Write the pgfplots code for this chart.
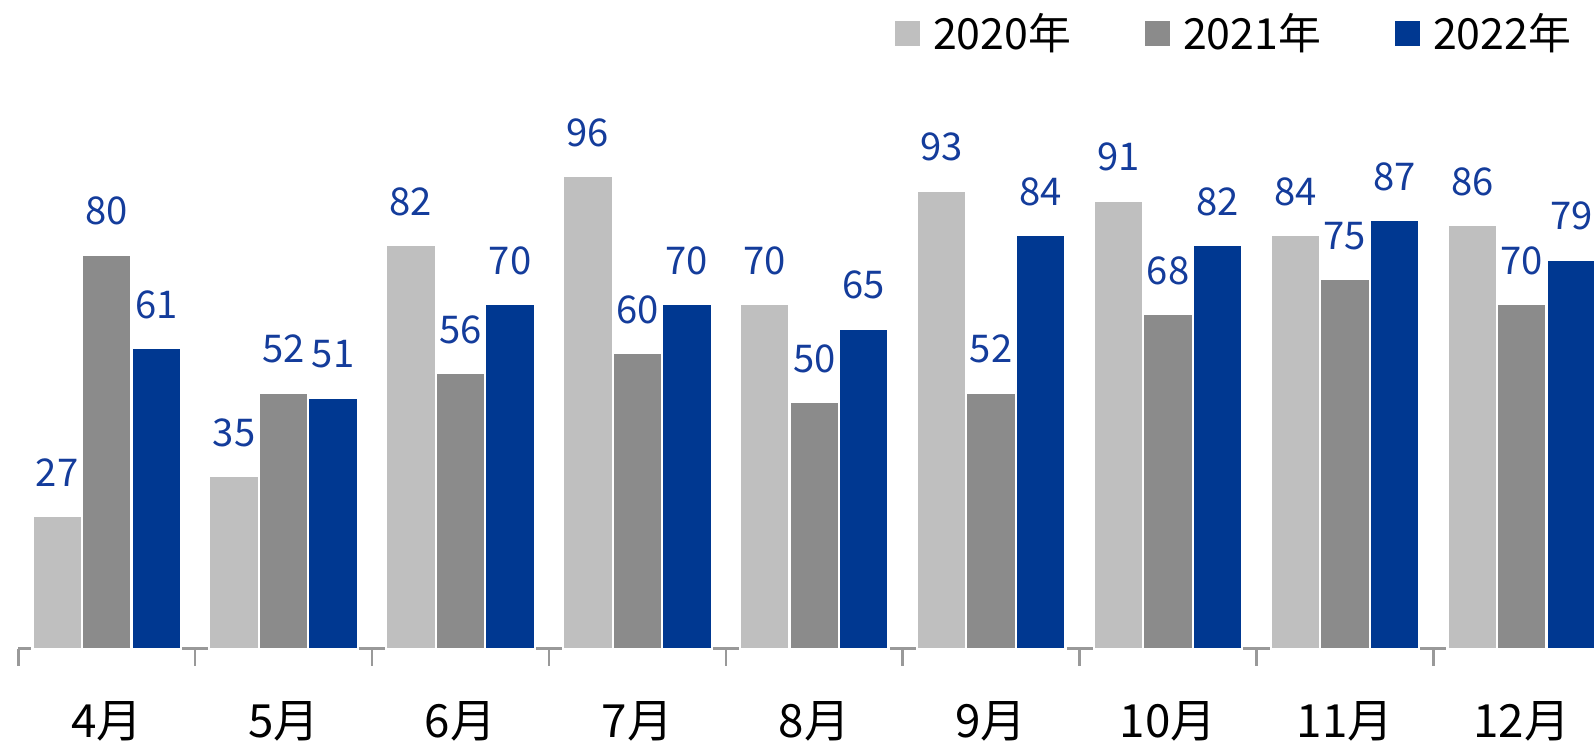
\documentclass[border=0pt]{standalone}
\usepackage{fontspec}
\setmainfont{Noto Sans CJK JP}
\usepackage{pgfplots}
\usepackage{pgfplotstable}
\pgfplotsset{compat=1.18}

\definecolor{lightbar}{RGB}{191,191,191}
\definecolor{darkbar}{RGB}{139,139,139}
\definecolor{bluebar}{RGB}{0,56,145}
\definecolor{labelblue}{RGB}{20,60,155}

% month index, 2020, 2021, 2022
\pgfplotstableread{
x a b c
0 27 80 61
1 35 52 51
2 82 56 70
3 96 60 70
4 70 50 65
5 93 52 84
6 91 68 82
7 84 75 87
8 86 70 79
}\salesdata

\begin{document}
\begin{tikzpicture}
\useasboundingbox (0,0) rectangle (15.68,7.30);
\begin{axis}[
    at={(0.18cm,0.92cm)}, anchor=south west,
    scale only axis,
    width=15.52cm, height=5.57cm,
    xmin=-0.5, xmax=8.42,
    ymin=0, ymax=115,
    clip=false,
    axis x line*=bottom,
    axis y line=none,
    axis line style={black!40, line width=0.7pt},
    xtick={0,...,8},
    xticklabels={4月,5月,6月,7月,8月,9月,10月,11月,12月},
    major tick length=0pt,
    minor xtick={-0.5,0.5,...,7.5},
    minor tick length=0.17cm,
    tick align=outside,
    minor tick style={black!40, line width=0.7pt},
    xticklabel style={font=\fontsize{12.8}{14}\selectfont, anchor=north, yshift=-0.40cm},
    /pgf/number format/assume math mode=true,
    ybar, bar width=0.28, bar shift=0pt,
    every axis plot/.append style={draw=white, line width=0.6pt, bar shift=0pt},
    nodes near coords,
    every node near coord/.append style={font=\fontsize{10.7}{12}\selectfont, text=labelblue, yshift=0.16cm},
    legend columns=3,
    legend style={at={(0.996,1.086)}, anchor=east, draw=none, fill=none,
        font=\fontsize{12}{14}\selectfont,
        /tikz/every even column/.append style={column sep=0.66cm}},
    legend image code/.code={\fill[#1,draw=none] (0cm,-0.1225cm) rectangle (0.245cm,0.1225cm); \path (0.29cm,0cm);},
]
\addplot[fill=lightbar] table[x expr=\thisrow{x}-0.28, y=a] {\salesdata};
\addlegendentry{2020年}
\addplot[fill=darkbar] table[x=x, y=b] {\salesdata};
\addlegendentry{2021年}
\addplot[fill=bluebar] table[x expr=\thisrow{x}+0.28, y=c] {\salesdata};
\addlegendentry{2022年}
\end{axis}
\end{tikzpicture}
\end{document}
